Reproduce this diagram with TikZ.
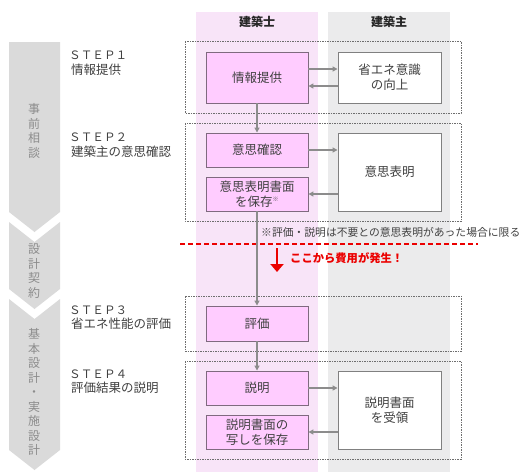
\documentclass[tikz,border=0pt]{standalone}
\usepackage{fontspec}
\setmainfont{Noto Sans CJK JP}
\usetikzlibrary{arrows.meta}
\definecolor{colpink}{RGB}{248,228,248}
\definecolor{colgray}{RGB}{235,235,236}
\definecolor{boxpink}{RGB}{255,204,255}
\definecolor{boxborder}{RGB}{127,106,127}
\definecolor{wborder}{RGB}{128,128,128}
\definecolor{chev}{RGB}{218,218,218}
\definecolor{chevtxt}{RGB}{140,140,140}
\definecolor{dashc}{RGB}{110,110,110}
\definecolor{arrc}{RGB}{140,140,140}
\definecolor{txt}{RGB}{64,64,64}
\definecolor{alertred}{RGB}{235,0,0}
\begin{document}
\begin{tikzpicture}[x=1pt,y=-1pt,
  pinkbox/.style={draw=boxborder, fill=boxpink, line width=0.9pt, minimum width=102pt, text=txt, font=\fontsize{12.5}{15}\selectfont, align=center, inner sep=0pt},
  whitebox/.style={draw=wborder, fill=white, line width=0.9pt, minimum width=103pt, text=txt, font=\fontsize{12.5}{15}\selectfont, align=center, inner sep=0pt},
  stepframe/.style={draw=dashc, dash pattern=on 1.5pt off 1pt, line width=0.8pt},
  garrow/.style={draw=arrc, line width=1.3pt, -{Triangle[length=5pt,width=5pt]}},
  chevtext/.style={text=chevtxt, font=\fontsize{12}{14.5}\selectfont, align=center, inner sep=0pt},
  steplabel/.style={anchor=west, text=txt, font=\fontsize{11.6}{14}\selectfont, inner sep=0pt},
  stepname/.style={anchor=west, text=txt, font=\fontsize{12.5}{14}\selectfont, inner sep=0pt},
  header/.style={text=black!85, font=\fontsize{12}{14}\selectfont\bfseries, inner sep=0pt}
]
\useasboundingbox (0,0) rectangle (529,475);
% columns
\fill[colpink] (196,12) rectangle (318,472);
\fill[colgray] (328,12) rectangle (450,472);
\node[header] (h1) at (257,22) {建築士};
\node[header] (h2) at (389,22) {建築主};
% chevrons
\fill[chev] (9,42) -- (60,42) -- (60,212) -- (34.5,232) -- (9,212) -- cycle;
\fill[chev] (9,222) -- (34.5,242) -- (60,222) -- (60,289) -- (34.5,309) -- (9,289) -- cycle;
\fill[chev] (9,299) -- (34.5,319) -- (60,299) -- (60,450) -- (34.5,470) -- (9,450) -- cycle;
\node[chevtext] (c1) at (34,131) {事\\前\\相\\談};
\node[chevtext] (c2) at (34,271) {設\\計\\契\\約};
\node[chevtext] (c3) at (34,392) {基\\本\\設\\計\\・\\実\\施\\設\\計};
% step labels
\node[steplabel] (s1) at (69,55) {ＳＴＥＰ１};
\node[stepname] (n1) at (71,70) {情報提供};
\node[steplabel] (s2) at (69,137) {ＳＴＥＰ２};
\node[stepname] (n2) at (71,152) {建築主の意思確認};
\node[steplabel] (s3) at (69,310) {ＳＴＥＰ３};
\node[stepname] (n3) at (71,324) {省エネ性能の評価};
\node[steplabel] (s4) at (69,374) {ＳＴＥＰ４};
\node[stepname] (n4) at (71,388) {評価結果の説明};
% step frames
\draw[stepframe] (185,41) rectangle (461,113);
\draw[stepframe] (185,123) rectangle (461,221);
\draw[stepframe] (185,296) rectangle (461,351);
\draw[stepframe] (185,361) rectangle (461,459);
% boxes
\node[pinkbox, minimum height=51pt] (info) at (257,77.5) {情報提供};
\node[pinkbox, minimum height=34pt] (ishi) at (257,150) {意思確認};
\node[pinkbox, minimum height=34pt] (hozon) at (257,194) {意思表明書面\\を保存\textsuperscript{\fontsize{6}{6}\selectfont ※}};
\node[pinkbox, minimum height=35pt] (hyoka) at (257,323.5) {評価};
\node[pinkbox, minimum height=34pt] (setsu) at (257,388) {説明};
\node[pinkbox, minimum height=34pt] (utsu) at (257,432) {説明書面の\\写しを保存};
\node[whitebox, minimum height=51pt] (kojo) at (389.5,77.5) {省エネ意識\\の向上};
\node[whitebox, minimum height=78pt] (hyomei) at (389.5,172) {意思表明};
\node[whitebox, minimum height=78pt] (juryo) at (389.5,410) {説明書面\\を受領};
% red line and note
\coordinate (rl1) at (180,244);
\coordinate (rl2) at (478,244);
\draw[alertred, line width=2pt, dash pattern=on 5pt off 3pt] (rl1) -- (rl2);
\node[anchor=west, text=txt, font=\fontsize{10.8}{12}\selectfont, inner sep=0pt] (note) at (261,232) {※評価・説明は不要との意思表明があった場合に限る};
\coordinate (ra1) at (277,248);
\coordinate (ra2) at (277,272);
\draw[alertred, line width=2.2pt, -{Triangle[length=8pt,width=13pt]}] (ra1) -- (ra2);
\node[anchor=west, text=alertred, font=\fontsize{11.3}{12}\selectfont\bfseries, inner sep=0pt] (cost) at (290,258) {ここから費用が発生！};
% arrows
\draw[garrow] (info.south) -- (ishi.north);
\draw[garrow] (hozon.south) -- (hyoka.north);
\draw[garrow] (hyoka.south) -- (setsu.north);
\draw[garrow] (info.east |- 0,69) -- (kojo.west |- 0,69);
\draw[garrow] (kojo.west |- 0,86) -- (info.east |- 0,86);
\draw[garrow] (ishi.east) -- (hyomei.west |- ishi.east);
\draw[garrow] (hyomei.west |- hozon.east) -- (hozon.east);
\draw[garrow] (setsu.east) -- (juryo.west |- setsu.east);
\draw[garrow] (juryo.west |- utsu.east) -- (utsu.east);
\end{tikzpicture}
\end{document}
